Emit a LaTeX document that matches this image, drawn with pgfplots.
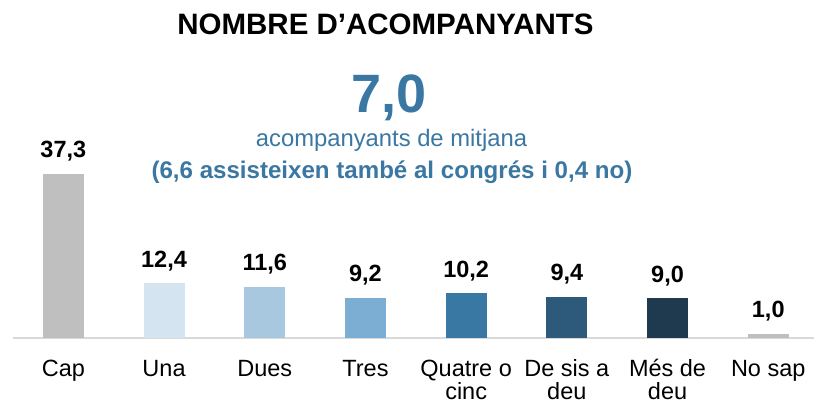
\documentclass[border=0pt]{standalone}
\usepackage{pgfplots}
\pgfplotsset{compat=1.18}
\usepackage{fontspec}
\setmainfont{Liberation Sans}
\definecolor{txtblue}{RGB}{58,119,163}
\definecolor{cgray}{RGB}{191,191,191}
\definecolor{c1}{RGB}{213,228,241}
\definecolor{c2}{RGB}{168,200,224}
\definecolor{c3}{RGB}{124,174,212}
\definecolor{c4}{RGB}{58,120,164}
\definecolor{c5}{RGB}{45,90,123}
\definecolor{c6}{RGB}{31,58,79}
\definecolor{axgray}{RGB}{217,217,217}
\newcommand\tl{\rule{0pt}{19pt}}
\begin{document}
\begin{tikzpicture}[x=1pt,y=1pt]
\useasboundingbox (0,0) rectangle (814,404);
\fill[white] (0,0) rectangle (814,404);
\begin{axis}[
  at={(13pt,66pt)}, anchor=south west,
  scale only axis, width=805.6pt, height=338pt,
  xmin=-0.5, xmax=7.5, ymin=0, ymax=76.87,
  hide y axis,
  axis x line*=bottom,
  x axis line style={draw=axgray, line width=1.5pt},
  xtick={0,...,7},
  xticklabels={\tl Cap,\tl Una,\tl Dues,\tl Tres,{\tl Quatre o\\[-3pt]cinc},{\tl De sis a\\[-3pt]deu},{\tl Més de\\[-3pt]deu},\tl No sap},
  xtick style={draw=none},
  xticklabel style={font=\fontsize{23.5}{26}\selectfont, align=center, anchor=north, inner sep=0pt, yshift=-14.6pt},
  ybar, bar width=41pt, bar shift=0pt,
  clip=false,
  nodes near coords={\pgfmathprintnumber[fixed,fixed zerofill,precision=1,use comma,assume math mode=true]{\pgfplotspointmeta}},
  nodes near coords style={font=\fontsize{23.5}{27}\selectfont\bfseries, anchor=base, yshift=16pt, inner sep=0pt, text=black},
]
\addplot[fill=cgray, draw=none] coordinates {(0,37.3)};
\addplot[fill=c1, draw=none] coordinates {(1,12.4)};
\addplot[fill=c2, draw=none] coordinates {(2,11.6)};
\addplot[fill=c3, draw=none] coordinates {(3,9.2)};
\addplot[fill=c4, draw=none] coordinates {(4,10.2)};
\addplot[fill=c5, draw=none] coordinates {(5,9.4)};
\addplot[fill=c6, draw=none] coordinates {(6,9.0)};
\addplot[fill=cgray, draw=none] coordinates {(7,1.0)};
\end{axis}
\node[anchor=base, inner sep=0pt, font=\fontsize{29.5}{34}\selectfont\bfseries] at (385.5,369) {NOMBRE D’ACOMPANYANTS};
\node[anchor=base, inner sep=0pt, text=txtblue, font=\fontsize{54}{60}\selectfont\bfseries] at (389,291) {7,0};
\node[anchor=base, inner sep=0pt, text=txtblue, font=\fontsize{23.8}{28}\selectfont] at (391.5,257) {acompanyants de mitjana};
\node[anchor=base, inner sep=0pt, text=txtblue, font=\fontsize{24.1}{28}\selectfont\bfseries] at (392,225) {(6,6 assisteixen també al congrés i 0,4 no)};
\end{tikzpicture}
\end{document}
